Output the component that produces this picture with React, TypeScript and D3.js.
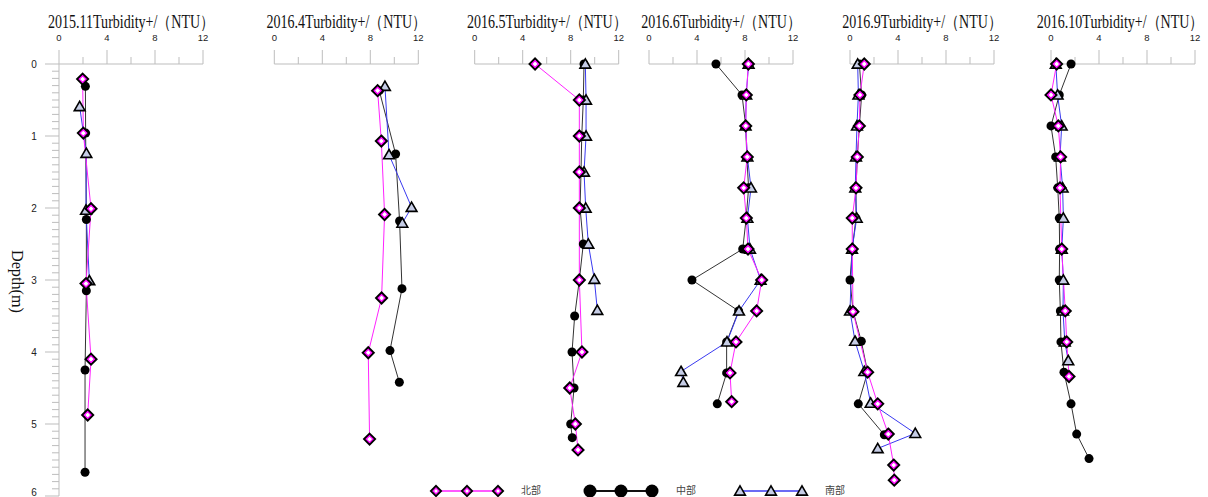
import React from "react";
import * as d3 from "d3";

type Pt = [number, number]; // [depth, turbidity]

const panelTitles = ["2015.11", "2016.4", "2016.5", "2016.6", "2016.9", "2016.10"];
const xTicks = [0, 4, 8, 12];
const xMinorTicks = [2, 6, 10];
const depthTicks = [0, 1, 2, 3, 4, 5, 6];
const seriesNames = ["北部", "中部", "南部"];

// 2015.11
const p1North: Pt[] = [[0.21, 1.97], [0.96, 2.03], [2.01, 2.67], [3.05, 2.25], [4.1, 2.67], [4.875, 2.39]];
const p1Mid: Pt[] = [[0.31, 2.2], [0.96, 2.22], [2.16, 2.28], [3.15, 2.28], [4.25, 2.17], [5.67, 2.17]];
const p1South: Pt[] = [[0.59, 1.72], [1.24, 2.28], [2.03, 2.25], [3.01, 2.53]];
// 2016.4
const p2North: Pt[] = [[0.37, 8.61], [1.07, 8.92], [2.09, 9.19], [3.25, 8.94], [4.01, 7.83], [5.21, 7.94]];
const p2Mid: Pt[] = [[0.37, 8.75], [1.25, 10.11], [2.18, 10.44], [3.12, 10.64], [3.98, 9.64], [4.42, 10.42]];
const p2South: Pt[] = [[0.31, 9.22], [1.26, 9.56], [1.99, 11.44], [2.21, 10.67]];
// 2016.5
const p3North: Pt[] = [[0, 5.03], [0.5, 8.72], [1, 8.72], [1.5, 8.72], [2, 8.72], [3, 8.72], [4, 8.94], [4.5, 7.92], [5, 8.39], [5.36, 8.61]];
const p3Mid: Pt[] = [[0, 9.11], [0.5, 9.05], [1, 8.92], [1.5, 8.86], [2, 8.78], [2.5, 9.05], [3, 8.72], [3.5, 8.33], [4, 8.11], [4.5, 8.28], [5, 8.0], [5.19, 8.13]];
const p3South: Pt[] = [[0, 9.22], [0.5, 9.28], [1, 9.28], [1.5, 9.11], [2, 9.25], [2.5, 9.47], [2.99, 9.97], [3.42, 10.22]];
// 2016.6
const p4North: Pt[] = [[0, 8.28], [0.43, 8.11], [0.86, 8.06], [1.29, 8.19], [1.72, 7.89], [2.14, 8.11], [2.57, 8.25], [3.0, 9.39], [3.43, 8.97], [3.86, 7.25], [4.29, 6.75], [4.69, 6.89]];
const p4Mid: Pt[] = [[0, 5.58], [0.43, 7.75], [0.86, 8.06], [1.29, 8.15], [1.72, 8.3], [2.14, 8.1], [2.57, 7.81], [3.0, 3.58], [3.43, 7.47], [3.86, 6.47], [4.29, 6.47], [4.72, 5.69]];
const p4South: Pt[] = [[0, 8.3], [0.43, 8.1], [0.86, 8.05], [1.29, 8.2], [1.72, 8.5], [2.14, 8.2], [2.57, 8.42], [3.0, 9.3], [3.43, 7.5], [3.86, 6.5], [4.27, 2.67], [4.42, 2.86]];
// 2016.9
const p5North: Pt[] = [[0, 1.19], [0.43, 0.83], [0.86, 0.78], [1.29, 0.61], [1.72, 0.5], [2.14, 0.19], [2.57, 0.19], [3.44, 0.25], [4.28, 1.47], [4.72, 2.31], [5.14, 3.19], [5.57, 3.64], [5.78, 3.69]];
const p5Mid: Pt[] = [[0, 0.78], [0.43, 0.97], [0.86, 0.78], [1.29, 0.61], [1.72, 0.5], [2.14, 0.5], [2.57, 0.19], [3.0, 0.0], [3.43, 0.25], [3.85, 0.94], [4.28, 1.47], [4.72, 0.69], [5.15, 2.86]];
const p5South: Pt[] = [[0, 0.64], [0.43, 0.7], [0.86, 0.58], [1.29, 0.5], [1.72, 0.44], [2.14, 0.56], [2.57, 0.17], [3.43, 0.0], [3.85, 0.42], [4.27, 1.19], [4.71, 1.72], [5.13, 5.44], [5.34, 2.31]];
// 2016.10
const p6North: Pt[] = [[0, 0.47], [0.43, 0.0], [0.86, 0.61], [1.29, 0.8], [1.72, 0.75], [2.57, 0.89], [3.43, 1.19], [3.86, 1.31], [4.34, 1.5]];
const p6Mid: Pt[] = [[0, 1.67], [0.43, 0.69], [0.86, 0], [1.29, 0.39], [1.72, 0.56], [2.14, 0.69], [2.57, 0.72], [3.0, 0.69], [3.43, 0.78], [3.86, 0.83], [4.28, 1.08], [4.72, 1.67], [5.14, 2.14], [5.48, 3.17]];
const p6South: Pt[] = [[0, 0.4], [0.43, 0.55], [0.86, 0.89], [1.29, 0.75], [1.72, 0.97], [2.14, 1.03], [2.57, 0.9], [3.0, 1.03], [3.43, 1.0], [3.86, 1.15], [4.12, 1.44]];

const panelNorth = [p1North, p2North, p3North, p4North, p5North, p6North];
const panelMid = [p1Mid, p2Mid, p3Mid, p4Mid, p5Mid, p6Mid];
const panelSouth = [p1South, p2South, p3South, p4South, p5South, p6South];

const panelLeft = [59, 274.3, 474.7, 649, 850, 1051];
const panelWidth = 144;
const axisColor = "#bdbdbd";
const serif = "'Liberation Serif', 'Times New Roman', serif";
const sans = "'Liberation Sans', Arial, sans-serif";

const yScale = d3.scaleLinear().domain([0, 6]).range([64, 496]);

const diamondPath = (r: number) => `M0,${-r}L${r},0L0,${r}L${-r},0Z`;
const trianglePath = d3.symbol().type(d3.symbolTriangle).size(50)()!;

function Diamond({ x, y, big }: { x: number; y: number; big?: boolean }) {
  const r = big ? 5 : 5.5;
  return (
    <g transform={`translate(${x},${y})`}>
      <path d={diamondPath(r)} fill={big ? "#fff" : "#d01cd0"} stroke="#000" strokeWidth={2} />
      <path d={diamondPath(r - 2.2)} fill="#fff" stroke="#ff00ff" strokeWidth={1.2} />
    </g>
  );
}

function Circle({ x, y, r }: { x: number; y: number; r: number }) {
  return <circle cx={x} cy={y} r={r} fill="#000" />;
}

function Triangle({ x, y }: { x: number; y: number }) {
  return (
    <path d={trianglePath} transform={`translate(${x},${y + 1})`} fill="#c6cde6" stroke="#000" strokeWidth={1.6} />
  );
}

function Panel({ i }: { i: number }) {
  const x0 = panelLeft[i];
  const xScale = d3.scaleLinear().domain([0, 12]).range([x0, x0 + panelWidth]);
  const line = d3
    .line<Pt>()
    .x((d) => xScale(d[1]))
    .y((d) => yScale(d[0]));
  const north = panelNorth[i];
  const mid = panelMid[i];
  const south = panelSouth[i];
  const title = panelTitles[i] + "Turbidity+/（NTU）";
  const halfLen = panelTitles[i].length === 7 ? 84 : 81;
  const titleCx = Math.min(x0 + panelWidth / 2, 1204 - halfLen);
  return (
    <g>
      <text
        transform={`translate(${titleCx},28) scale(0.78,1)`}
        textAnchor="middle"
        fontFamily={serif}
        fontSize={18}
        fill="#111"
      >
        {title}
      </text>
      <line x1={x0} x2={x0 + panelWidth} y1={yScale(0)} y2={yScale(0)} stroke={axisColor} strokeWidth={1} />
      {xTicks.map((t) => (
        <g key={"t" + t}>
          <line x1={xScale(t)} x2={xScale(t)} y1={yScale(0)} y2={yScale(0) - 14} stroke={axisColor} strokeWidth={1} />
          <text x={xScale(t)} y={41} textAnchor="middle" fontFamily={sans} fontSize={9.5} fill="#222">
            {t}
          </text>
        </g>
      ))}
      {xMinorTicks.map((t) => (
        <line key={"m" + t} x1={xScale(t)} x2={xScale(t)} y1={yScale(0)} y2={yScale(0) - 7} stroke={axisColor} strokeWidth={1} />
      ))}
      <path d={line(mid)!} fill="none" stroke="#333" strokeWidth={1} />
      <path d={line(south)!} fill="none" stroke="#3a3af0" strokeWidth={1} />
      <path d={line(north)!} fill="none" stroke="#ff22ff" strokeWidth={1} />
      {mid.map((d, k) => (
        <Circle key={"c" + k} x={xScale(d[1])} y={yScale(d[0])} r={4.5} />
      ))}
      {south.map((d, k) => (
        <Triangle key={"s" + k} x={xScale(d[1])} y={yScale(d[0])} />
      ))}
      {north.map((d, k) => (
        <Diamond key={"n" + k} x={xScale(d[1])} y={yScale(d[0])} />
      ))}
    </g>
  );
}

function YAxis() {
  const x = panelLeft[0];
  const minor = d3.range(0, 61).map((v) => v / 10).filter((v) => Math.abs(v - Math.round(v)) > 1e-6);
  return (
    <g>
      <line x1={x} x2={x} y1={yScale(0)} y2={yScale(6)} stroke={axisColor} strokeWidth={1} />
      {depthTicks.map((t) => (
        <g key={"d" + t}>
          <line x1={x - 14} x2={x} y1={yScale(t)} y2={yScale(t)} stroke={axisColor} strokeWidth={1} />
          <text x={34} y={Math.min(yScale(t) + 3.5, 496)} textAnchor="middle" fontFamily={sans} fontSize={10} fill="#222">
            {t}
          </text>
        </g>
      ))}
      {minor.map((t) => (
        <line key={"dm" + t} x1={x - 7} x2={x} y1={yScale(t)} y2={yScale(t)} stroke={axisColor} strokeWidth={1} />
      ))}
      <text
        transform={`translate(12,${yScale(3.02)}) rotate(90)`}
        textAnchor="middle"
        fontFamily={serif}
        fontSize={17}
        fill="#111"
        textLength={63}
        lengthAdjust="spacingAndGlyphs"
      >
        Depth(m)
      </text>
    </g>
  );
}

function Legend() {
  const y = 491;
  const groups = [436, 590, 740];
  const textX = [521, 676, 825];
  const colors = ["#ff22ff", "#111", "#3a3af0"];
  return (
    <g>
      {groups.map((gx, gi) => {
        const xs = [gx, gx + 31, gx + 62];
        return (
          <g key={"lg" + gi}>
            <line x1={xs[0]} x2={xs[2]} y1={y} y2={y} stroke={colors[gi]} strokeWidth={gi === 1 ? 2 : 1.5} />
            {xs.map((xx, k) =>
              gi === 0 ? (
                <Diamond key={k} x={xx} y={y} big />
              ) : gi === 1 ? (
                <Circle key={k} x={xx} y={y} r={6.5} />
              ) : (
                <Triangle key={k} x={xx} y={y} />
              )
            )}
            <text x={textX[gi]} y={y + 3} fontFamily="'Noto Sans CJK SC', sans-serif" fontSize={10} fill="#444">
              {seriesNames[gi]}
            </text>
          </g>
        );
      })}
    </g>
  );
}

export default function App() {
  return (
    <svg
      width={1208}
      height={497}
      style={{ position: "absolute", left: 0, top: 0, background: "#fff" }}
    >
      <rect width={1208} height={497} fill="#fff" />
      <YAxis />
      {panelTitles.map((_, i) => (
        <Panel key={i} i={i} />
      ))}
      <Legend />
    </svg>
  );
}
